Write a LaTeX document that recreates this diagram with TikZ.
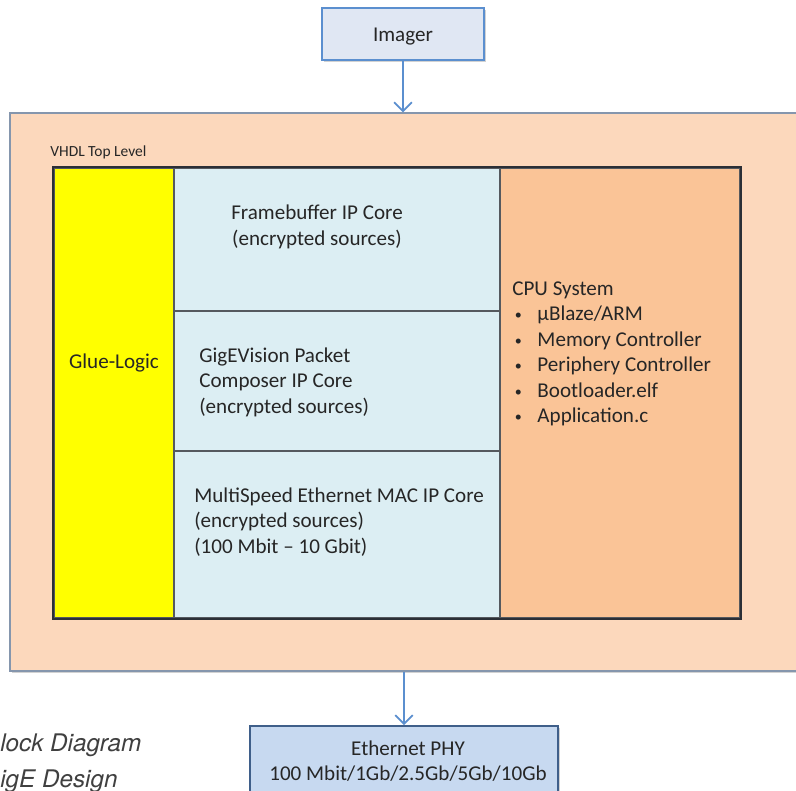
\documentclass[tikz,border=0pt]{standalone}
\usepackage{fontspec}
\setmainfont{Carlito}
\newfontfamily\capfont{TeX Gyre Heros}
\usetikzlibrary{arrows.meta,shadows}

\definecolor{lineblue}{HTML}{5B8FCF}
\definecolor{imagerfill}{HTML}{E0E7F3}
\definecolor{outerfill}{HTML}{FCD8BC}
\definecolor{outerline}{HTML}{8596AD}
\definecolor{gluefill}{HTML}{FFFF00}
\definecolor{cellblue}{HTML}{DCEEF3}
\definecolor{cpufill}{HTML}{FAC497}
\definecolor{phyfill}{HTML}{C7D9F0}
\definecolor{phyline}{HTML}{3F5F8A}
\definecolor{framegray}{HTML}{2B2F36}
\definecolor{txt}{HTML}{262626}

\tikzset{
  box/.style={draw, rectangle, inner sep=0pt, line width=0.9pt},
  cell/.style={draw=framegray!80, rectangle, inner sep=0pt, line width=0.6pt},
  softshadow/.style={drop shadow={opacity=0.35, shadow xshift=1.2pt, shadow yshift=-1.2pt}},
  arr/.style={lineblue, line width=1pt, -{Straight Barb[length=5pt,width=10pt]}},
  label/.style={text=txt, font=\fontsize{12}{14.5}\selectfont, inner sep=0pt}
}
\newcommand{\cpuitem}{\makebox[14.3pt][l]{\hspace{1.5pt}\raisebox{0.6pt}{\footnotesize\textbullet}}}

\begin{document}
\begin{tikzpicture}[x=0.02cm, y=-0.02cm]
    \useasboundingbox (0,0) rectangle (796,791);
    \clip (0,0) rectangle (796,791);
    \fill[white] (0,0) rectangle (796,791);

    % top and bottom boxes
    \node[box, draw=lineblue, fill=imagerfill, softshadow, minimum width=3.24cm, minimum height=1.04cm] (imager) at (403,34) {};
    \node[label] at (403,37) {Imager};

    \node[box, draw=outerline, fill=outerfill, softshadow, minimum width=15.9cm, minimum height=11.16cm] (top) at (407.5,392) {};
    \node[text=txt, font=\fontsize{8.8}{10}\selectfont, anchor=west, inner sep=0pt] (toplabel) at (50,152) {VHDL Top Level};

    \node[box, draw=phyline, fill=phyfill, softshadow, minimum width=6.16cm, minimum height=1.48cm] (phy) at (404,763) {};
    \node[label, align=center] at (408,761) {Ethernet PHY\\100 Mbit/1Gb/2.5Gb/5Gb/10Gb};

    % inner frame with its cells
    \node[box, draw=framegray, fill=white, softshadow, minimum width=13.72cm, minimum height=9cm] (core) at (397,393) {};
    \node[cell, fill=gluefill, minimum width=2.4cm, minimum height=9cm] (glue) at (114,393) {};
    \node[cell, fill=cellblue, minimum width=6.52cm, minimum height=2.86cm] (fb) at (337,239.5) {};
    \node[cell, fill=cellblue, minimum width=6.52cm, minimum height=2.8cm] (gige) at (337,381) {};
    \node[cell, fill=cellblue, minimum width=6.52cm, minimum height=3.34cm] (mac) at (337,534.5) {};
    \node[cell, fill=cpufill, minimum width=4.8cm, minimum height=9cm] (cpu) at (620,393) {};
    \draw[framegray, line width=1pt] (core.north west) rectangle (core.south east);

    \node[label] at (114,363) {Glue-Logic};
    \node[label, align=center] at (317,227) {Framebuffer IP Core\\(encrypted sources)};
    \node[label, align=left, anchor=west] at (199,382) {GigEVision Packet\\Composer IP Core\\(encrypted sources)};
    \node[label, align=left, anchor=west] at (194,522) {MultiSpeed Ethernet MAC IP Core\\(encrypted sources)\\(100 Mbit -- 10 Gbit)};
    \node[label, align=left, anchor=west] at (512,354) {CPU System\\\cpuitem µBlaze/ARM\\\cpuitem Memory Controller\\\cpuitem Periphery Controller\\\cpuitem Bootloader.elf\\\cpuitem Application.c};

    % connectors
    \draw[arr] (imager.south) -- (imager.south |- top.north);
    \draw[arr] (phy.north |- top.south) -- (phy.north);

    % caption, cut off at the left edge
    \node[text=black!75, font=\capfont\itshape\fontsize{13.8}{16}\selectfont, anchor=west, inner sep=0pt] at (0,745) {lock Diagram};
    \node[text=black!75, font=\capfont\itshape\fontsize{13.8}{16}\selectfont, anchor=west, inner sep=0pt] at (0,781) {igE Design};
  \end{tikzpicture}
\end{document}
